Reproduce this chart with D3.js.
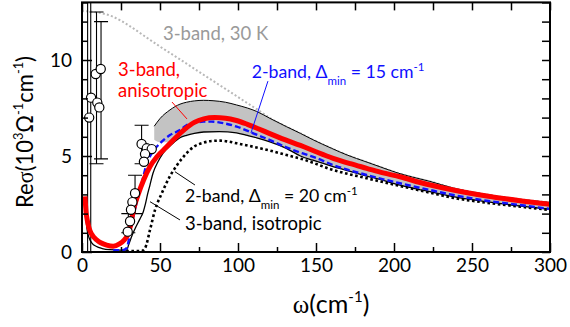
<!DOCTYPE html>
<html><head><meta charset="utf-8">
<script src="https://cdn.jsdelivr.net/npm/d3@7"></script>
<style>
html,body{margin:0;padding:0;background:#fff;}
svg{display:block;font-family:Lato,'Open Sans',sans-serif;}
</style></head>
<body>
<svg id="chart" width="570" height="327"></svg>
<script>
// ---------- data (omega in cm^-1, Re sigma in 10^3 Ohm^-1 cm^-1) ----------
const redOmega = [1.9,2.6,3.5,4.5,6,7.5,9.4,12,15.8,20,24,27,29,31,33,36,39.5,43.5,48,54,60,66,72,78,85,92,99,106,113,120,130,140,150,161,172,182.5,193,203.8,216.7,238,259.4,280.8,300];
const redSigma = [2.9,2.1,1.6,1.25,0.95,0.78,0.63,0.48,0.36,0.3,0.42,0.62,0.85,1.35,2.2,3.0,3.75,4.44,4.96,5.45,5.95,6.4,6.75,6.93,7.0,6.97,6.85,6.65,6.42,6.18,5.85,5.55,5.22,4.88,4.6,4.36,4.12,3.92,3.62,3.23,2.92,2.67,2.48];

const blueOmega = [20,26,28.6,30.8,32.9,35,37.2,39.3,41.5,44.7,50,56.4,62.8,67,72,77.8,83,88.5,99.2,109.8,120.5,131,141,150,161,182.5,203.8,223,238,259.4,280.8,300];
const blueSigma = [0.1,0.1,0.2,0.97,1.84,2.55,3.23,3.92,4.62,5.14,5.66,6.09,6.35,6.6,6.72,6.79,6.79,6.74,6.53,6.18,5.83,5.45,5.15,4.9,4.53,4.01,3.58,3.23,2.97,2.67,2.45,2.24];

const dotOmega = [25,38,40.4,43.6,46.8,51.1,56.4,60.7,67.1,72,77.8,83,88.5,94,99.2,109.8,120.5,131.2,141.9,161,182.5,203.8,223,238,259,281,300];
const dotSigma = [0.05,0.05,0.2,1.15,2.19,3.05,3.95,4.5,5.15,5.5,5.69,5.78,5.8,5.75,5.66,5.48,5.28,5.05,4.82,4.27,3.84,3.44,3.09,2.82,2.57,2.36,2.19];

const isoOmega = [1.9,2.5,3.2,4.5,6.5,9,13,18,24,28.6,30,32,34.5,37,39.3,40.5,42,43.6,45.5,48.7,52,57.7,62.8,67,72,78,88,99,106,112,120.5,131,140,148,160,170,182,191,203,212,223,238,259,280,300];
const isoSigma = [2.6,1.8,1.2,0.75,0.45,0.3,0.18,0.12,0.1,0.1,0.4,0.85,1.3,1.7,2.1,2.45,3.0,3.5,4.1,4.7,5.15,5.62,5.95,6.08,6.18,6.25,6.27,6.2,6.07,5.95,5.74,5.40,5.0,4.78,4.47,4.24,3.97,3.78,3.5,3.33,3.14,2.88,2.62,2.40,2.22];

const hotOmega = [0,10,20,30,40,50,60,70,80,90,100,108,115,120.5,131,140,148,160,170,182,191,203,212,223,238,259,280,300];
const hotSigma = [12.55,12.48,12.25,11.8,11.25,10.7,10.18,9.65,9.12,8.6,8.07,7.65,7.28,6.98,6.53,6.18,5.85,5.4,5.05,4.7,4.44,4.1,3.9,3.68,3.33,3.0,2.75,2.58];

const bandOmega = [46.3,50,56.4,62.8,67,72,78,84,92,99,106,112,120.5,131,140,148,160,170,182,191,203,212,223,238,259,280,300];
const bandUpper = [6.55,6.95,7.4,7.7,7.8,7.87,7.9,7.88,7.8,7.66,7.5,7.32,6.96,6.53,6.18,5.85,5.4,5.05,4.7,4.44,4.1,3.9,3.68,3.33,3.0,2.75,2.58];
const bandLower = [5.85,5.72,5.72,5.95,6.08,6.18,6.25,6.27,6.27,6.2,6.07,5.95,5.74,5.40,5.0,4.78,4.47,4.24,3.97,3.78,3.5,3.33,3.14,2.88,2.62,2.40,2.22];

const ptOmega = [4.6,5.8,8.8,12.0,9.8,11.1,38.2,41.5,44.7,40.4,39.7,34.0,32.3,31.4,30.8,29.3];
const ptSigma = [7.0,8.04,9.27,9.53,7.78,7.53,5.63,5.4,5.36,5.1,4.7,3.06,2.6,2.2,1.6,1.06];

const errOmega = [3.6,5.6,9.3,12.2,38.2,34.0,29.7];
const errLow   = [-5,-5,4.6,4.85,4.6,2.0,1.0];
const errHigh  = [20,20,12.5,12.0,6.6,4.0,2.0];

const xMajorTicks = [0,50,100,150,200,250,300];
const xMinorTicks = [25,75,125,175,225,275];
const yMajorTicks = [0,5,10];
const yMinorTicks = [1,2,3,4,6,7,8,9,11,12,13];

// ---------- layout ----------
const svg = d3.select("#chart");
const x = d3.scaleLinear().domain([0,300]).range([82,550]);
const y = d3.scaleLinear().domain([0,13]).range([252,2.4]);

svg.append("defs").append("clipPath").attr("id","clip")
  .append("rect").attr("x",82).attr("y",2.4).attr("width",468).attr("height",249.6);

const plot = svg.append("g").attr("clip-path","url(#clip)");
const zip = (a,b)=>a.map((v,i)=>[v,b[i]]);
const line = d3.line().x(d=>x(d[0])).y(d=>y(d[1])).curve(d3.curveMonotoneX);

// grey band
plot.append("path")
  .datum(bandOmega.map((w,i)=>({w,u:bandUpper[i],l:bandLower[i]})))
  .attr("d", d3.area().x(d=>x(d.w)).y0(d=>y(d.l)).y1(d=>y(d.u)).curve(d3.curveMonotoneX))
  .attr("fill","#c3c3c3").attr("stroke","none");

// 3-band 30K grey dotted
plot.append("path").datum(zip(hotOmega,hotSigma)).attr("d",line)
  .attr("fill","none").attr("stroke","#b8b8b8").attr("stroke-width",2).attr("stroke-dasharray","2,2.2");

// upper band edge
plot.append("path").datum(zip(bandOmega,bandUpper)).attr("d",line)
  .attr("fill","none").attr("stroke","#000").attr("stroke-width",1);

// 2-band 20 dotted black
plot.append("path").datum(zip(dotOmega,dotSigma)).attr("d",line)
  .attr("fill","none").attr("stroke","#000").attr("stroke-width",2.6).attr("stroke-dasharray","2.6,2.6");

// 3-band isotropic black solid
plot.append("path").datum(zip(isoOmega,isoSigma)).attr("d",line)
  .attr("fill","none").attr("stroke","#000").attr("stroke-width",1.3);

// 2-band 15 blue dashed
plot.append("path").datum(zip(blueOmega,blueSigma)).attr("d",line)
  .attr("fill","none").attr("stroke","#1010ff").attr("stroke-width",2.4).attr("stroke-dasharray","6,3");

// error bars
const eb = plot.append("g").attr("stroke","#000").attr("stroke-width",1.1);
errOmega.forEach((w,i)=>{
  eb.append("line").attr("x1",x(w)).attr("x2",x(w)).attr("y1",y(errLow[i])).attr("y2",y(errHigh[i]));
  [errLow[i],errHigh[i]].forEach(v=>{
    eb.append("line").attr("x1",x(w)-7).attr("x2",x(w)+7).attr("y1",y(v)).attr("y2",y(v));
  });
});

// 3-band anisotropic red
plot.append("path").datum(zip(redOmega,redSigma)).attr("d",line)
  .attr("fill","none").attr("stroke","#ff0000").attr("stroke-width",5).attr("stroke-linecap","butt");

// data points
plot.append("g").selectAll("circle").data(zip(ptOmega,ptSigma)).join("circle")
  .attr("cx",d=>x(d[0])).attr("cy",d=>y(d[1])).attr("r",4.6)
  .attr("fill","#fff").attr("stroke","#000").attr("stroke-width",1.2);

// ---------- axes ----------
function styleAxis(g){ g.select(".domain").remove(); g.selectAll("line").attr("stroke","#000").attr("stroke-width",1.5);
  g.selectAll("text").attr("font-family","Lato,'Open Sans',sans-serif").attr("font-size",19).attr("fill","#000"); }
svg.append("g").attr("transform","translate(0,252)")
  .call(d3.axisBottom(x).tickValues(xMajorTicks).tickSize(-9).tickPadding(7).tickFormat(d3.format("d"))).call(styleAxis);
svg.append("g").attr("transform","translate(0,252)")
  .call(d3.axisBottom(x).tickValues(xMinorTicks).tickSize(-5).tickFormat("")).call(styleAxis);
svg.append("g").attr("transform","translate(0,2.4)")
  .call(d3.axisTop(x).tickValues(xMajorTicks.concat(xMinorTicks)).tickSize(-8).tickFormat("")).call(styleAxis);
svg.append("g").attr("transform","translate(82,0)")
  .call(d3.axisLeft(y).tickValues(yMajorTicks).tickSize(-10).tickPadding(10).tickFormat(d3.format("d"))).call(styleAxis);
svg.append("g").attr("transform","translate(82,0)")
  .call(d3.axisLeft(y).tickValues(yMinorTicks).tickSize(-6).tickFormat("")).call(styleAxis);
svg.append("g").attr("transform","translate(550,0)")
  .call(d3.axisRight(y).tickValues(yMajorTicks.concat(yMinorTicks)).tickSize(-8).tickFormat("")).call(styleAxis);
svg.append("rect").attr("x",82).attr("y",2.4).attr("width",468).attr("height",249.6)
  .attr("fill","none").attr("stroke","#000").attr("stroke-width",2);

// ---------- annotations ----------
const F = "Lato,'Open Sans',sans-serif";
function leader(w1,s1,w2,s2,col){
  svg.append("line").attr("x1",x(w1)).attr("y1",y(s1)).attr("x2",x(w2)).attr("y2",y(s2))
    .attr("stroke",col).attr("stroke-width",1);
}
leader(57.7,7.81,67.3,6.93,"#ff0000");
leader(119.2,8.9,108.3,6.2,"#1010ff");
leader(59.6,4.18,72.4,3.49,"#000");
leader(43.6,2.62,62.8,1.67,"#000");

function label(w,s,col,size,parts){
  const t = svg.append("text").attr("x",x(w)).attr("y",y(s)).attr("fill",col)
    .attr("font-family",F).attr("font-size",size);
  parts.forEach(p=>{
    const ts = t.append("tspan").text(p.t);
    if(p.dy) ts.attr("dy",p.dy);
    if(p.fs) ts.attr("font-size",p.fs);
  });
  return t;
}
label(51.9,11.04,"#9a9a9a",18.5,[{t:"3-band, 30 K"}]);
label(23.1,9.17,"#ff0000",18.5,[{t:"3-band,"}]);
label(23.1,8.09,"#ff0000",18.5,[{t:"anisotropic"}]);
label(108.8,9.06,"#1010ff",17.7,[{t:"2-band, Δ"},{t:"min",fs:11.5,dy:7},{t:" = 15 cm",dy:-7},{t:"-1",fs:11.5,dy:-7}]);
label(66,2.62,"#000",17.7,[{t:"2-band, Δ"},{t:"min",fs:11.5,dy:7},{t:" = 20 cm",dy:-7},{t:"-1",fs:11.5,dy:-7}]);
label(66,1.15,"#000",18.5,[{t:"3-band, isotropic"}]);

// axis titles
const xt = svg.append("text").attr("x",331).attr("y",313).attr("text-anchor","middle")
  .attr("font-family",F).attr("font-size",25).attr("fill","#000");
xt.append("tspan").attr("font-family","'Liberation Serif',serif").text("ω");
xt.append("tspan").text("(cm");
xt.append("tspan").attr("font-size",15).attr("dy",-11).text("-1");
xt.append("tspan").attr("dy",11).text(")");

const yt = svg.append("text").attr("transform","translate(33,132) rotate(-90)").attr("text-anchor","middle")
  .attr("font-family",F).attr("font-size",24).attr("fill","#000")
  .attr("textLength",152).attr("lengthAdjust","spacingAndGlyphs");
yt.append("tspan").text("Re");
yt.append("tspan").attr("font-family","'Liberation Serif',serif").text("σ");
yt.append("tspan").text("(10");
yt.append("tspan").attr("font-size",14).attr("dy",-10).text("3");
yt.append("tspan").attr("dy",10).text("Ω");
yt.append("tspan").attr("font-size",14).attr("dy",-10).text("-1");
yt.append("tspan").attr("dy",10).text("cm");
yt.append("tspan").attr("font-size",14).attr("dy",-10).text("-1");
yt.append("tspan").attr("dy",10).text(")");
</script>
</body></html>
